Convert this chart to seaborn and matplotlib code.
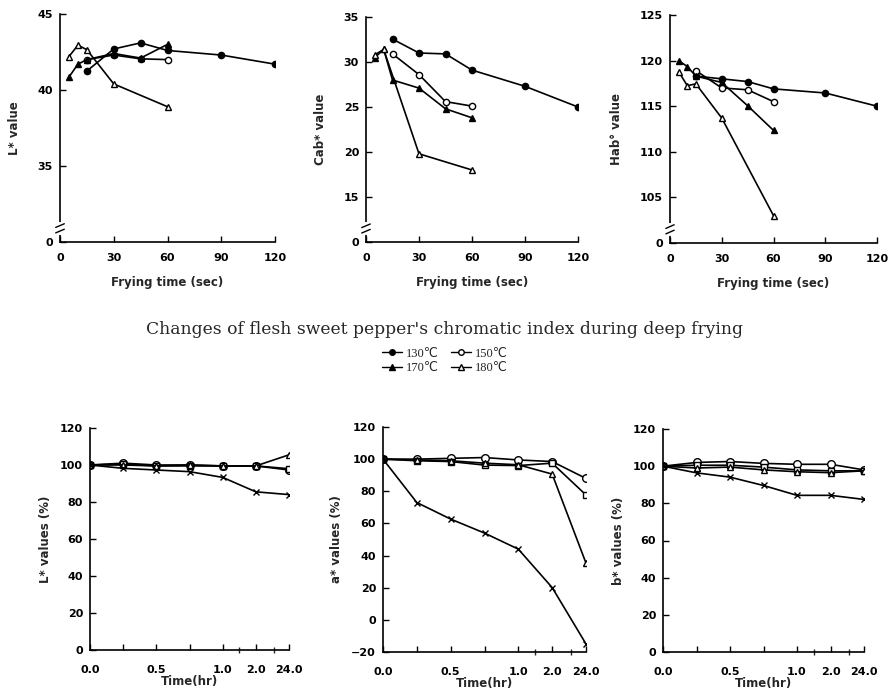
import matplotlib
matplotlib.use("Agg")
import matplotlib.pyplot as plt
import seaborn as sns
import pandas as pd
from matplotlib.lines import Line2D
from matplotlib.font_manager import FontProperties

sns.set_style("ticks")
plt.rcParams['font.family'] = ['DejaVu Sans']

# ---------------- top row data (frying time, sec) ----------------
t130 = [15, 30, 45, 60, 90, 120]
t150 = [15, 30, 45, 60]
t170 = [5, 10, 15, 30, 45, 60]
t180 = [5, 10, 15, 30, 60]
t180_cab = [5, 10, 30, 60]

L130 = [41.25, 42.7, 43.1, 42.6, 42.3, 41.7]
L150 = [42.0, 42.3, 42.05, 42.0]
L170 = [40.85, 41.7, 42.0, 42.4, 42.1, 43.0]
L180 = [42.2, 42.95, 42.65, 40.4, 38.9]

C130 = [32.55, 31.0, 30.9, 29.1, 27.3, 25.0]
C150 = [30.9, 28.6, 25.6, 25.1]
C170 = [30.5, 31.4, 28.0, 27.1, 24.8, 23.8]
C180 = [30.8, 31.4, 19.8, 18.0]

H130 = [118.3, 118.0, 117.7, 116.9, 116.45, 115.0]
H150 = [118.9, 117.0, 116.8, 115.5]
H170 = [120.0, 119.35, 118.3, 117.6, 115.05, 112.35]
H180 = [118.8, 117.25, 117.45, 113.7, 103.0]

# ---------------- bottom row data (storage time, hr) ----------------
time_labels = ["0.0", "0.25", "0.5", "0.75", "1.0", "2.0", "24.0"]
shown_labels = ["0.0", "", "0.5", "", "1.0", "2.0", "24.0"]

Lp_circle = [100, 101, 100, 100, 99.5, 99.5, 97.3]
Lp_square = [100, 100.5, 99.5, 99.5, 99.5, 99.5, 98.0]
Lp_triangle = [100, 100, 99.5, 100, 99.5, 99.5, 105.5]
Lp_x = [100, 98.2, 97.3, 96.4, 93.3, 85.5, 84.0]

a_circle = [100, 100, 100.5, 101, 99.5, 98.5, 88]
a_square = [100, 99, 98.5, 96.3, 96, 97.5, 77.7]
a_triangle = [100, 99.5, 99, 97.5, 96.5, 90.7, 35.3]
a_x = [100, 73, 62.7, 54, 44, 20.1, -15]

b_circle = [100, 102, 102.5, 101.5, 101, 101, 98]
b_square = [100, 100.5, 100.5, 99.5, 98, 97.5, 97.5]
b_triangle = [100, 99, 99.5, 98, 97, 96.5, 97.5]
b_x = [100, 96.4, 94.1, 89.6, 84.3, 84.3, 82.1]

W, H = 889, 696
fig = plt.figure(figsize=(W / 100, H / 100), dpi=100)
fig.patch.set_facecolor("white")


def px_axes(left, right, top, bottom):
    return fig.add_axes([left / W, 1 - bottom / H, (right - left) / W, (bottom - top) / H])


lab_font = dict(fontsize=8.5, fontweight="bold")

styles_top = {
    "130": dict(marker="o", markerfacecolor="black"),
    "150": dict(marker="o", markerfacecolor="white"),
    "170": dict(marker="^", markerfacecolor="black"),
    "180": dict(marker="^", markerfacecolor="white"),
}


def draw_series(ax, x, y, st, ms=4.5):
    sns.lineplot(x=x, y=y, ax=ax, color="black", linewidth=1.2,
                 markersize=ms, markeredgecolor="black", markeredgewidth=1.0,
                 **st)


def style_axis(ax):
    sns.despine(ax=ax)
    for s in ("left", "bottom"):
        ax.spines[s].set_linewidth(1.2)
        ax.spines[s].set_color("black")
    ax.tick_params(direction="in", length=4, width=1, colors="black", pad=5)
    for lab in ax.get_xticklabels() + ax.get_yticklabels():
        lab.set_fontweight("bold")
        lab.set_fontsize(8)


def ybreak(ax, frac):
    ax.plot([0, 0], [frac - 0.02, frac + 0.02], transform=ax.transAxes,
            color="white", lw=3, clip_on=False, zorder=5)
    for d in (-0.012, 0.012):
        ax.plot([-0.02, 0.02], [frac + d - 0.008, frac + d + 0.008],
                transform=ax.transAxes, color="black", lw=1, clip_on=False, zorder=6)


top_specs = [
    (px_axes(60, 275, 14, 242), (30, 45), [30, 35, 40, 45], "L* value",
     [(t130, L130), (t150, L150), (t170, L170), (t180, L180)]),
    (px_axes(366, 578, 17, 242), (10, 35), [10, 15, 20, 25, 30, 35], "Cab* value",
     [(t130, C130), (t150, C150), (t170, C170), (t180_cab, C180)]),
    (px_axes(670, 877, 15, 243), (100, 125), [100, 105, 110, 115, 120, 125], "Hab° value",
     [(t130, H130), (t150, H150), (t170, H170), (t180, H180)]),
]

for ax, ylim, yt, ylab, series in top_specs:
    for key, (x, y) in zip(["130", "150", "170", "180"], series):
        draw_series(ax, x, y, styles_top[key])
    ax.set_xlim(0, 120)
    ax.set_ylim(*ylim)
    ax.set_xticks([0, 30, 60, 90, 120])
    ax.set_yticks(yt)
    ax.set_yticklabels(["0"] + [str(v) for v in yt[1:]])
    ax.set_xlabel("Frying time (sec)", labelpad=9, **lab_font)
    ax.set_ylabel(ylab, labelpad=12, **lab_font)
    style_axis(ax)
    ax.tick_params(axis="x", pad=8)
    ybreak(ax, 0.06)

fig.text(0.5, 1 - 330 / H,
         "Changes of flesh sweet pepper's chromatic index during deep frying",
         ha="center", va="center", family="DejaVu Serif", fontsize=12.3)

handles = [
    Line2D([], [], color="black", lw=1, markersize=4, markeredgecolor="black", **styles_top["130"]),
    Line2D([], [], color="black", lw=1, markersize=4, markeredgecolor="black", **styles_top["170"]),
    Line2D([], [], color="black", lw=1, markersize=4, markeredgecolor="black", **styles_top["150"]),
    Line2D([], [], color="black", lw=1, markersize=4, markeredgecolor="black", **styles_top["180"]),
]
labels = ["130℃", "170℃", "150℃", "180℃"]
fig.legend(handles, labels, loc="center", bbox_to_anchor=(0.5, 1 - 361 / H), ncol=2,
           frameon=False, handlelength=1.6, handletextpad=0.3,
           columnspacing=1.0, labelspacing=0.2,
           prop=FontProperties(family=["Liberation Serif", "DejaVu Sans"], size=9))

styles_bot = [
    dict(marker="o", markerfacecolor="white", ms=5.5),
    dict(marker="s", markerfacecolor="white", ms=4.5),
    dict(marker="^", markerfacecolor="white", ms=5),
    dict(marker="x", markerfacecolor="black", ms=5),
]

idx = list(range(len(time_labels)))
bot_specs = [
    (px_axes(90, 289, 428, 650), (0, 120), list(range(0, 121, 20)), "L* values (%)",
     [Lp_circle, Lp_square, Lp_triangle, Lp_x]),
    (px_axes(383, 586, 427, 652), (-20, 120), list(range(-20, 121, 20)), "a* values (%)",
     [a_circle, a_square, a_triangle, a_x]),
    (px_axes(663, 864, 429, 652), (0, 120), list(range(0, 121, 20)), "b* values (%)",
     [b_circle, b_square, b_triangle, b_x]),
]

for ax, ylim, yt, ylab, series in bot_specs:
    for st, y in zip(styles_bot, series):
        s = dict(st)
        ms = s.pop("ms")
        draw_series(ax, idx, y, s, ms=ms)
    ax.set_xlim(0, 6)
    ax.set_ylim(*ylim)
    ax.set_xticks(idx)
    ax.set_xticklabels(shown_labels)
    ax.set_xticks([4.5, 5.55], minor=True)
    ax.set_yticks(yt)
    ax.set_xlabel("Time(hr)", labelpad=0, **lab_font)
    ax.set_ylabel(ylab, labelpad=6, **lab_font)
    style_axis(ax)
    ax.tick_params(axis="x", which="major", pad=11)
    ax.tick_params(axis="x", which="minor", direction="inout", length=5, width=1)

fig.savefig("out.png", dpi=100, facecolor="white")
